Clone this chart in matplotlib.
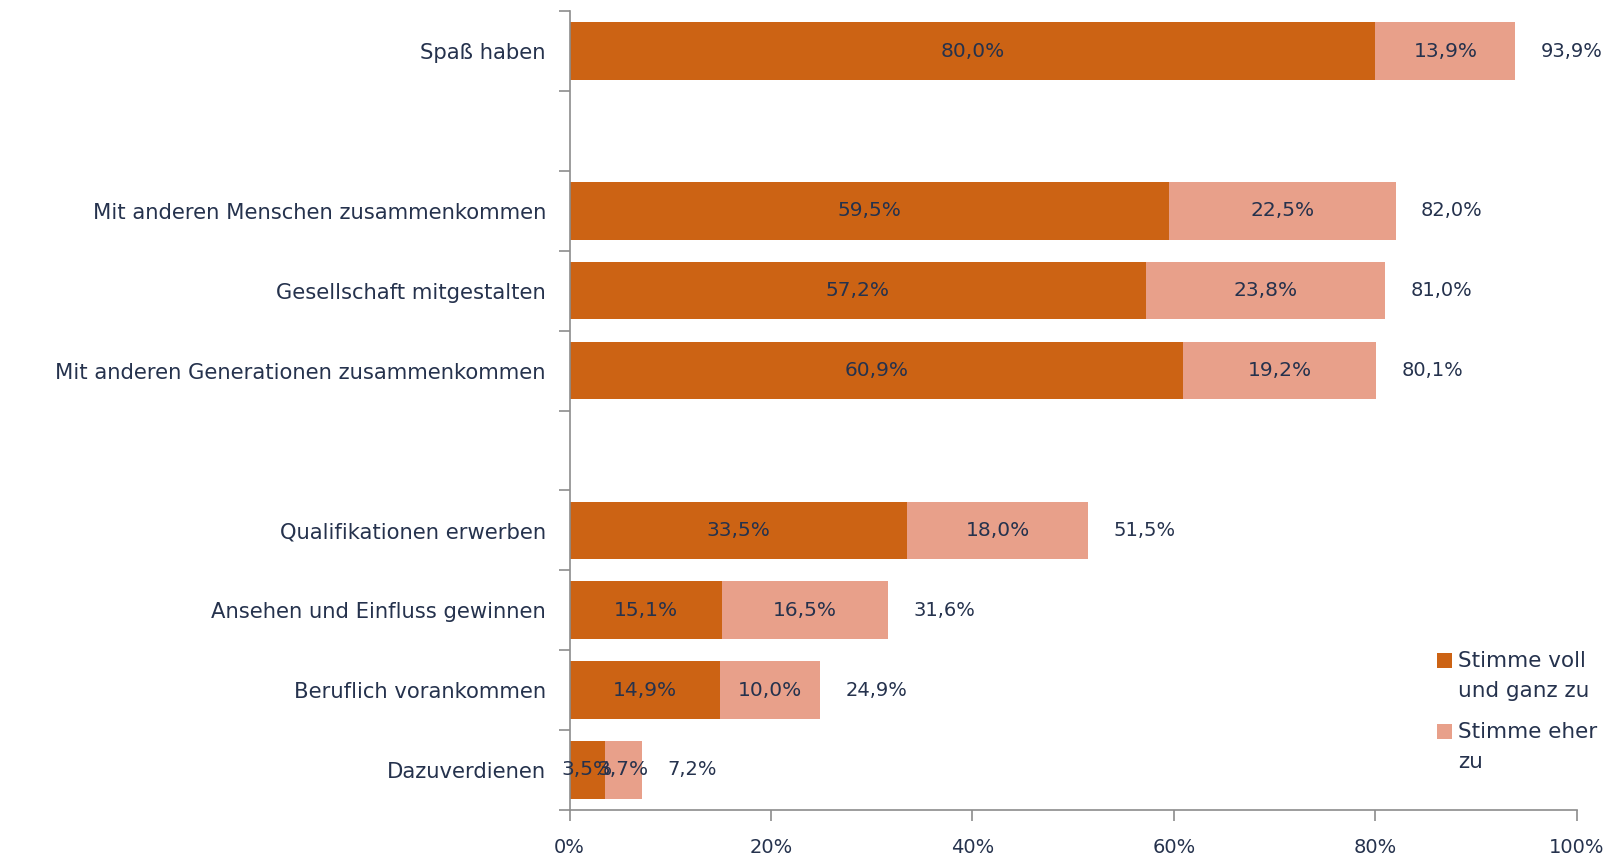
import matplotlib
matplotlib.use('Agg')

import numpy as np
import matplotlib.pyplot as plt
from matplotlib.patches import Patch, Rectangle
from matplotlib.legend_handler import HandlerBase

# rows from top to bottom, '' = empty spacer row
categories = ['Spaß haben', '', 'Mit anderen Menschen zusammenkommen',
              'Gesellschaft mitgestalten', 'Mit anderen Generationen zusammenkommen', '',
              'Qualifikationen erwerben', 'Ansehen und Einfluss gewinnen',
              'Beruflich vorankommen', 'Dazuverdienen']
voll = [80.0, np.nan, 59.5, 57.2, 60.9, np.nan, 33.5, 15.1, 14.9, 3.5]
eher = [13.9, np.nan, 22.5, 23.8, 19.2, np.nan, 18.0, 16.5, 10.0, 3.7]
gesamt = [93.9, np.nan, 82.0, 81.0, 80.1, np.nan, 51.5, 31.6, 24.9, 7.2]
xticks = [0, 20, 40, 60, 80, 100]
legend_labels = ['Stimme voll\nund ganz zu', 'Stimme eher\nzu']

c_voll = '#CC6314'
c_eher = '#E8A08A'
c_text = '#25324D'
c_axis = '#8C8C8C'

plt.rcParams['font.family'] = ['DejaVu Sans']


# legend square sits next to the first text line, not centered on both
class TopSquare(HandlerBase):
    def create_artists(self, legend, orig_handle, xdescent, ydescent,
                       width, height, fontsize, trans):
        r = Rectangle((-xdescent, -ydescent + 0.75 * fontsize), width, height,
                      facecolor=orig_handle.get_facecolor(), edgecolor='none',
                      transform=trans)
        return [r]


DPI = 100
fig = plt.figure(figsize=(16.09, 8.57), dpi=DPI)
ax = fig.add_axes([0.354, 0.055, 0.626, 0.932])

y = np.arange(len(categories))
ax.barh(y, voll, height=0.72, color=c_voll)
ax.barh(y, eher, left=voll, height=0.72, color=c_eher)

fs = 14.5
for i in range(len(categories)):
    if np.isnan(voll[i]):
        continue
    ax.text(voll[i] / 2, y[i], f'{voll[i]:.1f}%'.replace('.', ','),
            ha='center', va='center', color=c_text, fontsize=fs)
    ax.text(voll[i] + eher[i] / 2, y[i], f'{eher[i]:.1f}%'.replace('.', ','),
            ha='center', va='center', color=c_text, fontsize=fs)
    ax.text(gesamt[i] + 2.5, y[i], f'{gesamt[i]:.1f}%'.replace('.', ','),
            ha='left', va='center', color=c_text, fontsize=fs - 0.5)

ax.set_xlim(0, 100)
ax.set_ylim(len(categories) - 0.5, -0.5)
ax.set_xticks(xticks)
ax.set_xticklabels([f'{t}%' for t in xticks], color=c_text, fontsize=14)
ax.set_yticks(y)
ax.set_yticklabels(categories, color=c_text, fontsize=15.2)
ax.set_yticks(np.arange(len(categories) + 1) - 0.5, minor=True)
ax.tick_params(axis='y', which='major', length=0, pad=17)
ax.tick_params(axis='y', which='minor', length=8, color=c_axis, width=1.2)
ax.tick_params(axis='x', length=8, color=c_axis, width=1.2, pad=12)

for s in ['top', 'right']:
    ax.spines[s].set_visible(False)
for s in ['left', 'bottom']:
    ax.spines[s].set_color(c_axis)
    ax.spines[s].set_linewidth(1.2)

handles = [Patch(color=c_voll), Patch(color=c_eher)]
leg = fig.legend(handles, legend_labels, loc='upper left', bbox_to_anchor=(0.888, 0.25),
                 frameon=False, fontsize=15.5, labelcolor=c_text,
                 handlelength=0.7, handleheight=0.7, handletextpad=0.25,
                 labelspacing=1.0, borderaxespad=0,
                 handler_map={Patch: TopSquare()})
for t in leg.get_texts():
    t.set_linespacing(1.6)

plt.savefig('out.png', dpi=DPI)
